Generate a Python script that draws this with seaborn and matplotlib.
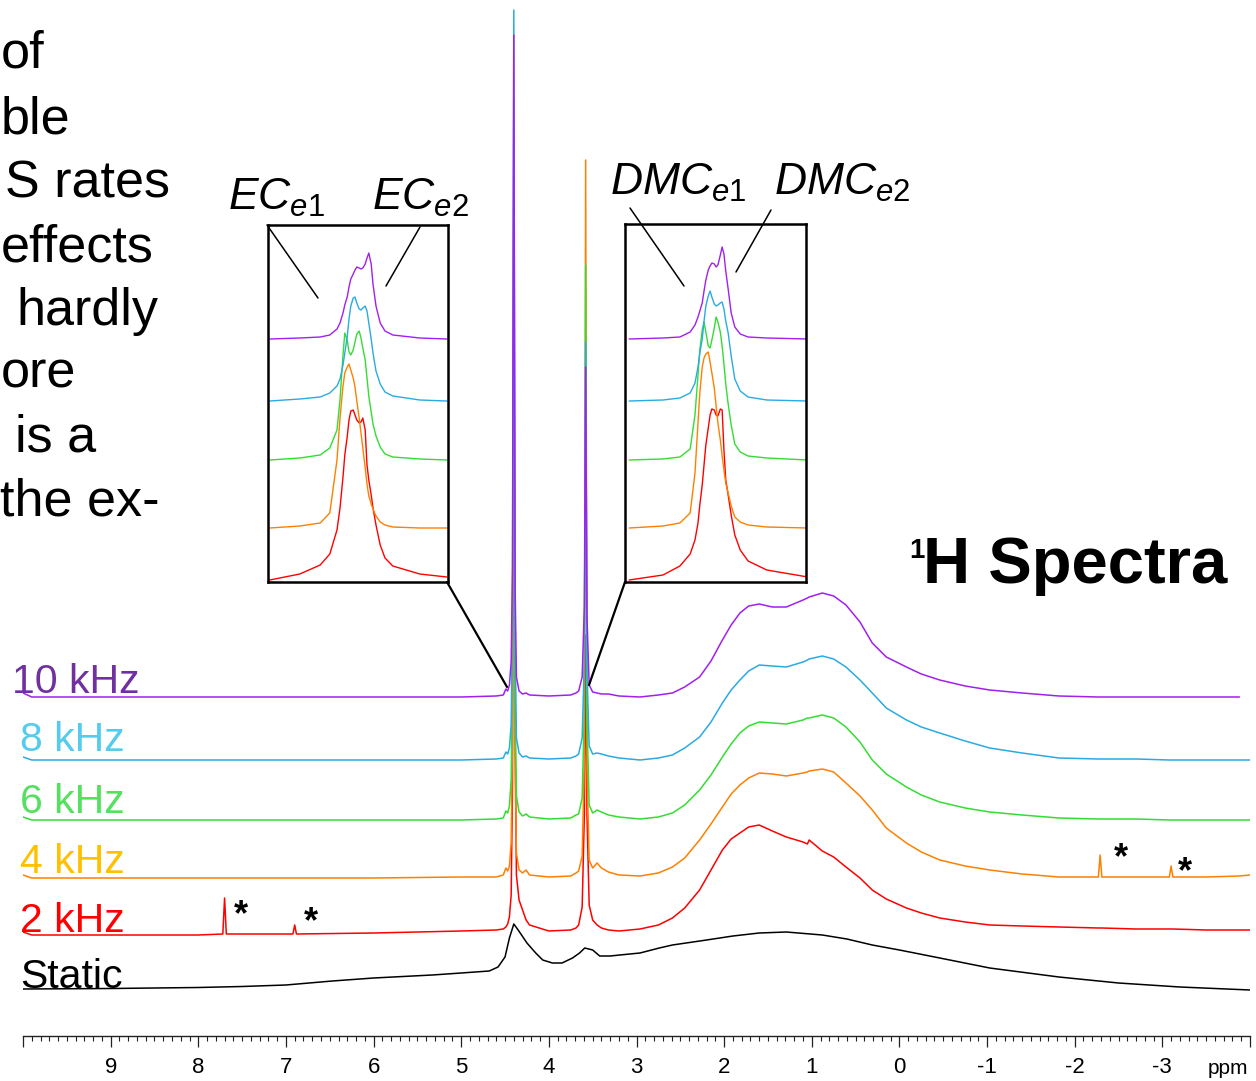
import numpy as np
import matplotlib
matplotlib.use("Agg")
import matplotlib.pyplot as plt
import seaborn as sns
from matplotlib.lines import Line2D

W, H = 1256, 1081

# ---------------- data ----------------
# main spectra: chemical shift grid (ppm) and intensities above each baseline
ppm = [10.0, 9.9, 9.0, 8.0, 7.72, 7.70, 7.68, 7.0, 6.92, 6.90, 6.88, 6.0, 5.0, 4.6,
       4.52, 4.49, 4.47, 4.45, 4.43, 4.415, 4.40, 4.385, 4.37, 4.34, 4.30, 4.26, 4.22,
       4.0, 3.75, 3.69, 3.66, 3.62, 3.595, 3.58, 3.565, 3.54, 3.50, 3.45, 3.40, 3.32,
       3.2, 2.96, 2.75, 2.59, 2.45, 2.28, 2.15, 2.02, 1.92, 1.82, 1.72, 1.60, 1.45,
       1.29, 1.1, 1.05, 1.03, 0.88, 0.75, 0.61, 0.45, 0.31, 0.15, -0.08, -0.25, -0.46,
       -0.75, -1.03, -1.4, -1.82, -2.27, -2.29, -2.31, -2.7, -3.08, -3.10, -3.12,
       -3.5, -3.88, -4.0]

i_10khz = [4, 0, 0, 0, 0, 0, 0, 0, 0, 0, 0, 0, 0, 1,
           2, 8, 6, 12, 35, 130, 662, 110, 20, 6, 3, 4, 2,
           1, 2, 4, 6, 20, 90, 330, 80, 12, 5, 4, 3, 3,
           1, 0, 2, 4, 10, 20, 36, 57, 72, 84, 91, 93, 90,
           90, 97, 99, 100, 104, 101, 92, 75, 54, 40, 30, 23, 17,
           11, 7, 4, 1, 0, 0, 0, 0, 0, 0, 0,
           0, 0, np.nan]
i_8khz = [3, 0, 0, 0, 0, 0, 0, 0, 0, 0, 0, 0, 0, 1,
          2, 8, 6, 12, 35, 140, 750, 120, 22, 7, 3, 4, 2,
          1, 2, 4, 6, 22, 100, 418, 90, 14, 6, 7, 6, 4,
          2, 0, 2, 5, 12, 23, 38, 57, 70, 80, 89, 95, 94,
          93, 98, 100, 101, 104, 101, 93, 80, 67, 52, 40, 33, 27,
          19, 12, 7, 2, 1, 1, 1, 1, 0, 0, 0,
          0, 0, 0]
i_6khz = [3, 0, 0, 0, 0, 0, 0, 0, 0, 0, 0, 0, 0, 1,
          2, 9, 7, 14, 40, 140, 720, 120, 24, 8, 4, 6, 3,
          1, 2, 5, 6, 22, 110, 555, 100, 15, 7, 10, 8, 5,
          3, 1, 3, 7, 15, 30, 45, 63, 76, 87, 94, 98, 97,
          96, 100, 102, 102, 105, 102, 93, 78, 60, 46, 33, 25, 18,
          12, 8, 5, 2, 1, 1, 1, 1, 0, 0, 0,
          0, 0, 0]
i_4khz = [3, 0, 0, 0, 0, 0, 0, 0, 0, 0, 0, 0, 1, 1,
          3, 10, 7, 12, 35, 140, 680, 120, 25, 8, 5, 8, 3,
          1, 2, 5, 7, 22, 120, 718, 110, 18, 10, 15, 10, 6,
          3, 2, 5, 11, 20, 38, 54, 71, 84, 93, 100, 105, 104,
          102, 105, 106, 107, 109, 106, 95, 82, 68, 50, 35, 26, 18,
          12, 8, 4, 1, 1, 23, 1, 1, 1, 12, 1,
          1, 2, 3]
i_2khz = [3, 0, 0, 0, 1, 37, 1, 1, 1, 10, 1, 2, 4, 5,
          6, 8, 11, 18, 40, 150, 600, 200, 60, 35, 25, 15, 10,
          4, 5, 7, 10, 28, 120, 300, 120, 30, 15, 10, 7, 5,
          4, 6, 10, 17, 27, 45, 65, 85, 96, 102, 108, 110, 104,
          98, 93, 91, 95, 84, 78, 68, 57, 45, 36, 27, 22, 17,
          13, 10, 9, 8, 7, 7, 7, 6, 6, 6, 6,
          5, 5, 5]

static_ppm = [10.0, 9.0, 8.0, 7.5, 7.0, 6.47, 6.0, 5.33, 5.0, 4.68, 4.58, 4.50, 4.45,
              4.40, 4.35, 4.25, 4.15, 4.07, 3.96, 3.85, 3.73, 3.65, 3.59, 3.50, 3.42,
              3.30, 3.19, 2.96, 2.74, 2.59, 2.2, 1.90, 1.6, 1.29, 0.88, 0.6, 0.31, 0.0,
              -0.46, -1.03, -1.82, -2.5, -3.2, -4.0]
static_i = [1, 1.5, 2.5, 3.5, 5, 9, 12, 15, 17, 19, 23, 33, 52,
            66, 60, 47, 37, 30, 27, 27, 32, 37, 42, 40, 34,
            34, 35, 37, 42, 45, 50, 54, 57, 58, 55, 51, 45, 40,
            32, 22, 13, 7, 3, 0]

# inset EC (expanded region around 4.40 ppm)
ec_ppm = [4.547, 4.497, 4.463, 4.447, 4.435, 4.430, 4.425, 4.422, 4.418, 4.415, 4.412,
          4.408, 4.405, 4.402, 4.398, 4.395, 4.392, 4.388, 4.385, 4.382, 4.378, 4.375,
          4.370, 4.363, 4.355, 4.342, 4.297, 4.252]
ec_10khz = [0, 1, 2, 4, 10, 16, 26, 34, 42, 52, 60, 65, 69, 72, 71, 70, 71, 75, 81, 86,
            75, 55, 33, 16, 8, 4, 1, 0]
ec_8khz = [0, 2, 4, 8, 15, 22, 36, 48, 64, 82, 95, 103, 104, 98, 92, 91, 93, 95, 90, 78,
           62, 48, 30, 17, 9, 5, 1, 0]
ec_6khz = [0, 2, 5, 12, 30, 60, 105, 127, 120, 108, 105, 110, 118, 126, 129, 122, 112,
           100, 82, 64, 48, 36, 24, 13, 6, 3, 1, 0]
ec_4khz = [0, 2, 5, 15, 68, 110, 142, 155, 161, 164, 158, 150, 141, 127, 110, 95, 80,
           60, 44, 32, 24, 19, 12, 6, 3, 1, 0, 0]
ec_2khz = [0, 6, 15, 26, 50, 72, 103, 125, 143, 160, 169, 170, 165, 160, 157, 158, 162,
           150, 115, 100, 85, 72, 55, 35, 22, 14, 6, 3]

# inset DMC (expanded region around 3.58 ppm)
dmc_ppm = [3.723, 3.667, 3.639, 3.622, 3.614, 3.609, 3.606, 3.602, 3.599, 3.596, 3.592,
           3.589, 3.586, 3.582, 3.579, 3.576, 3.572, 3.569, 3.566, 3.563, 3.559, 3.554,
           3.548, 3.539, 3.526, 3.495, 3.427]
dmc_10khz = [0, 1, 2, 7, 14, 22, 28, 36, 48, 59, 69, 73, 76, 75, 72, 74, 84, 92, 85, 68,
             50, 26, 12, 5, 2, 1, 0]
dmc_8khz = [0, 1, 3, 8, 18, 34, 48, 62, 80, 95, 105, 110, 104, 97, 95, 96, 98, 99, 92,
            80, 68, 45, 22, 10, 4, 1, 0]
dmc_6khz = [0, 1, 3, 11, 45, 85, 110, 130, 138, 128, 114, 112, 120, 132, 143, 138, 128,
            114, 96, 76, 56, 35, 16, 8, 4, 2, 0]
dmc_4khz = [0, 2, 5, 15, 55, 105, 135, 161, 170, 174, 176, 166, 155, 140, 122, 105, 88,
            72, 58, 45, 35, 22, 11, 6, 3, 1, 0]
dmc_2khz = [0, 5, 14, 26, 40, 57, 75, 95, 115, 135, 152, 165, 171, 170, 165, 164, 171,
            170, 130, 100, 85, 65, 45, 30, 19, 10, 3]

series_labels = ["10 kHz", "8 kHz", "6 kHz", "4 kHz", "2 kHz", "Static"]
tick_values = list(range(10, -5, -1))
tick_labels = ["", "9", "8", "7", "6", "5", "4", "3", "2", "1", "0", "-1", "-2", "-3", ""]
side_text = ["of", "ble", "S rates", "effects", "hardly", "ore", "is a", "the ex-"]

# ---------------- style ----------------
line_colors = ["#A020F0", "#29ABE2", "#33DD33", "#FF8000", "#FF0000", "#000000"]
label_colors = ["#7030A0", "#55CCEE", "#55E060", "#FFC000", "#FF0000", "#000000"]

sns.set_theme(style="white")
plt.rcParams["font.family"] = ["Liberation Sans", "DejaVu Sans"]
plt.rcParams["axes.unicode_minus"] = False
plt.rcParams["text.color"] = "black"
plt.rcParams["xtick.color"] = "black"
plt.rcParams["xtick.labelcolor"] = "black"
plt.rcParams["mathtext.fontset"] = "custom"
plt.rcParams["mathtext.it"] = "Liberation Sans:italic"
plt.rcParams["mathtext.rm"] = "Liberation Sans"

fig = plt.figure(figsize=(W / 100, H / 100), dpi=100)
fig.patch.set_facecolor("white")


def fx(x):
    return x / W


def fy(y):
    return 1 - y / H


# ---------------- main axes ----------------
ax = fig.add_axes([fx(23), fy(1036), 1227 / W, 1036 / H])
ax.set_facecolor("none")
main_offsets = [339, 276, 216, 158, 101]
main_series = [i_10khz, i_8khz, i_6khz, i_4khz, i_2khz]

sns.lineplot(x=static_ppm, y=np.array(static_i) + 46, ax=ax, color=line_colors[5],
             linewidth=1.1, estimator=None, sort=False)
for vals, off, col in list(zip(main_series, main_offsets, line_colors[:5]))[::-1]:
    sns.lineplot(x=ppm, y=np.array(vals, dtype=float) + off, ax=ax, color=col,
                 linewidth=1.1, estimator=None, sort=False)

ax.set_xlim(10, -4)
ax.set_ylim(0, 1036)
ax.set_xlabel("")
ax.set_ylabel("")
ax.set_yticks([])
ax.set_xticks(tick_values)
ax.set_xticklabels(tick_labels, fontsize=16, color="black",
                   family=["Liberation Sans Narrow", "Liberation Sans"])
ax.set_xticks(np.arange(-4, 10.01, 0.1), minor=True)
ax.tick_params(axis="x", which="major", direction="out", length=8, width=0.9,
               color="#222222", pad=7, bottom=True)
ax.tick_params(axis="x", which="minor", direction="out", length=3.5, width=0.8,
               color="#222222", bottom=True)
for s in ["left", "right", "top"]:
    ax.spines[s].set_visible(False)
ax.spines["bottom"].set_color("#222222")
ax.spines["bottom"].set_linewidth(1.0)

fig.text(fx(1228), fy(1068), "ppm", ha="center", va="center", fontsize=15,
         color="black", family=["Liberation Sans Narrow", "Liberation Sans"])

# series labels
label_x = [12, 20, 20, 20, 20, 20]
label_y = [693, 751, 813, 873, 932, 988]
for txt, c, lx, ly in zip(series_labels, label_colors, label_x, label_y):
    fig.text(fx(lx), fy(ly), txt, color=c, fontsize=29.5, ha="left", va="baseline")

# spinning sideband asterisks
for ax_x, ax_y in [(241, 925), (311, 932), (1121, 868), (1185, 882)]:
    fig.text(fx(ax_x), fy(ax_y), "*", fontsize=26, fontweight="bold",
             ha="center", va="baseline", color="black")

# title
fig.text(fx(923), fy(583), "H Spectra", fontsize=47, fontweight="bold",
         ha="left", va="baseline", color="black")
fig.text(fx(909), fy(558), "1", fontsize=20, fontweight="bold",
         ha="left", va="baseline", color="black")

# cropped body text at upper left (kept fully inside the canvas)
side_anchor = [(1, "left"), (1, "left"), (170, "right"), (1, "left"),
               (158, "right"), (1, "left"), (96, "right"), (160, "right")]
side_base = [68, 133, 197, 261, 325, 388, 452, 515]
for txt, (ax_x, ha), by in zip(side_text, side_anchor, side_base):
    fig.text(fx(ax_x), fy(by), txt, fontsize=37.5, ha=ha, va="baseline",
             color="black")

# ---------------- insets ----------------
inset_offsets = [243, 181, 122, 54, 2]


def make_inset(box, xs, traces, xlim):
    left, top, right, bottom = box
    a = fig.add_axes([fx(left), fy(bottom), (right - left) / W, (bottom - top) / H])
    a.set_facecolor("white")
    for vals, off, col in list(zip(traces, inset_offsets, line_colors[:5]))[::-1]:
        sns.lineplot(x=xs, y=np.array(vals, dtype=float) + off, ax=a, color=col,
                     linewidth=1.0, estimator=None, sort=False)
    a.set_xlim(*xlim)
    a.set_ylim(0, bottom - top)
    a.set_xticks([])
    a.set_yticks([])
    a.set_xlabel("")
    a.set_ylabel("")
    for s in a.spines.values():
        s.set_visible(True)
        s.set_color("black")
        s.set_linewidth(1.8)
    return a


make_inset((268, 225, 448, 582), ec_ppm,
           [ec_10khz, ec_8khz, ec_6khz, ec_4khz, ec_2khz], (4.55, 4.25))
make_inset((625, 224, 806, 582), dmc_ppm,
           [dmc_10khz, dmc_8khz, dmc_6khz, dmc_4khz, dmc_2khz], (3.73, 3.43))

# connector lines from the boxes to the peaks, and label leaders
segments = [((447, 582), (507, 687), 1.6),
            ((625, 582), (589, 685), 1.6),
            ((267, 225), (318, 298), 1.1),
            ((420, 227), (386, 286), 1.1),
            ((630, 208), (684, 286), 1.1),
            ((771, 210), (736, 272), 1.1)]
for (x0, y0), (x1, y1), lw in segments:
    fig.add_artist(Line2D([fx(x0), fx(x1)], [fy(y0), fy(y1)], color="black",
                          linewidth=lw, transform=fig.transFigure))

# peak labels
peak_labels = [(228, 210, r"$\mathit{EC}_{\mathit{e1}}$"),
               (372, 210, r"$\mathit{EC}_{\mathit{e2}}$"),
               (610, 195, r"$\mathit{DMC}_{\mathit{e1}}$"),
               (774, 195, r"$\mathit{DMC}_{\mathit{e2}}$")]
for lx, ly, txt in peak_labels:
    fig.text(fx(lx), fy(ly), txt, fontsize=32, ha="left", va="baseline", color="black")

fig.savefig("out.png", dpi=100, facecolor="white")
